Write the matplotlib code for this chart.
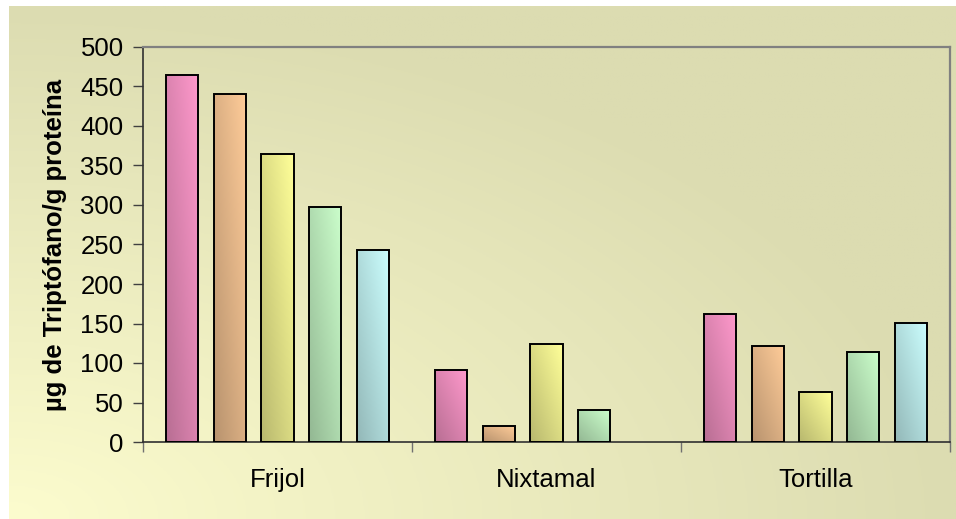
import numpy as np
import matplotlib
matplotlib.use("Agg")
import matplotlib.pyplot as plt

plt.rcParams["font.family"] = ["Liberation Sans", "DejaVu Sans"]

# Triptófano por muestra (µg/g proteína); cinco lotes por producto
categorias = ["Frijol", "Nixtamal", "Tortilla"]
serie_1 = [465, 91, 162]
serie_2 = [440, 20, 121]
serie_3 = [364, 124, 63]
serie_4 = [298, 40, 114]
serie_5 = [243, np.nan, 151]
series = [serie_1, serie_2, serie_3, serie_4, serie_5]

colores = ["#ff99cc", "#ffcc99", "#ffff99", "#ccffcc", "#ccffff"]
y_ticks = np.arange(0, 501, 50)

W, H = 956, 519
fig = plt.figure(figsize=(W / 100, H / 100), dpi=100)
fig.patch.set_facecolor("white")

# fondo con degradado (claro abajo a la izquierda, oscuro arriba/derecha)
bg = fig.add_axes([9 / W, 0, 1 - 9 / W, 513 / H], zorder=-5)
nx, ny = 300, 200
xn = np.linspace(0, 1, nx)[None, :]
yn = np.linspace(0, 1, ny)[:, None]
t = np.clip(np.sqrt(xn ** 2 + yn ** 2), 0, 1)
light = np.array([252, 252, 206]) / 255
dark = np.array([220, 220, 177]) / 255
grad = light + t[..., None] * (dark - light)
bg.imshow(grad, origin="lower", aspect="auto", extent=[0, 1, 0, 1])
bg.set_axis_off()

ax = fig.add_axes([143 / W, (H - 442) / H, (950 - 143) / W, (442 - 47) / H])
ax.set_facecolor("none")

x = np.arange(len(categorias))
paso = 0.1766
ancho = 0.119


def gradient_fill(ax, rect, color, factor=0.72):
    x0, y0 = rect.get_x(), rect.get_y()
    w, h = rect.get_width(), rect.get_height()
    if not np.isfinite(h) or h <= 0:
        return
    c = np.array(matplotlib.colors.to_rgb(color))
    gx = np.linspace(0, 1, 40)[None, :]
    gy = np.linspace(0, 1, 120)[:, None]
    tt = (gx + gy) / 2
    img = c * factor + tt[..., None] * (c - c * factor)
    ax.imshow(img, origin="lower", aspect="auto",
              extent=[x0, x0 + w, y0, y0 + h], zorder=2,
              interpolation="bilinear")


for i, (vals, col) in enumerate(zip(series, colores)):
    pos = x + (i - 2) * paso
    bars = ax.bar(pos, vals, width=ancho, facecolor="none",
                  edgecolor="black", linewidth=1.4, zorder=3)
    for rect in bars:
        gradient_fill(ax, rect, col)

ax.set_xlim(-0.5, 2.5)
ax.set_ylim(0, 500)

ax.set_yticks(y_ticks)
ax.tick_params(axis="y", length=7, width=1, color="#404040", pad=7,
               labelsize=18.5)

ax.set_xticks([-0.5, 0.5, 1.5, 2.5])
ax.set_xticklabels([])
ax.set_xticks(x, minor=True)
ax.set_xticklabels(categorias, minor=True)
ax.tick_params(axis="x", which="major", length=7, width=1, color="#707070")
ax.tick_params(axis="x", which="minor", length=0, pad=19, labelsize=18.5)

for s in ["top", "right"]:
    ax.spines[s].set_color("#808080")
    ax.spines[s].set_linewidth(1.6)
ax.spines["left"].set_color("#303030")
ax.spines["bottom"].set_color("#303030")
ax.spines["left"].set_linewidth(1.2)
ax.spines["bottom"].set_linewidth(1.2)

ax.set_ylabel("µg de Triptófano/g proteína", fontsize=18.5,
              fontweight="bold", labelpad=10)

fig.savefig("out.png", dpi=100)
